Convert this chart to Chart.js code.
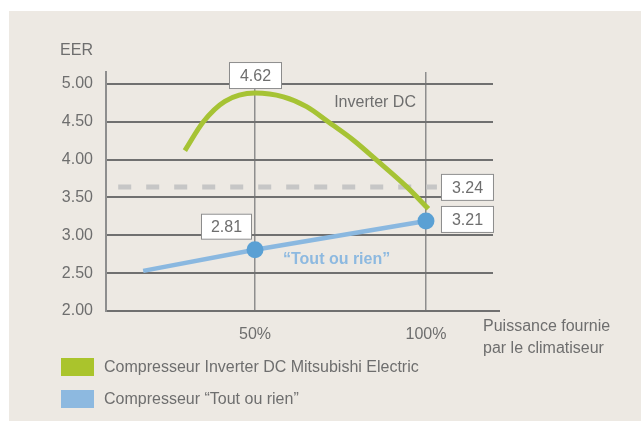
<!DOCTYPE html>
<html lang="fr">
<head>
  <meta charset="UTF-8" />
  <title>EER compresseurs</title>
  <script src="https://cdn.jsdelivr.net/npm/chart.js"></script>
  <style>
    * { margin: 0; padding: 0; box-sizing: border-box; }
    html, body { width: 641px; height: 421px; background: #fff; overflow: hidden;
      font-family: 'Liberation Sans', Arial, sans-serif; }
    .panel { position: absolute; left: 9px; top: 11px; width: 632px; height: 410px; background: #ede9e3; }
    .chart-box { position: absolute; left: 0; top: 0; width: 641px; height: 421px; }
    .legend { position: absolute; left: 61px; top: 358px; color: #6e6e6e; font-size: 16px; }
    .legend div { display: flex; align-items: center; height: 18px; margin-bottom: 14px; }
    .legend span.sw { display: inline-block; width: 33px; height: 18px; margin-right: 10px; }
  </style>
</head>
<body>
  <div class="panel"></div>
  <div class="chart-box"><canvas id="eerChart" width="641" height="421"></canvas></div>
  <div class="legend">
    <div><span class="sw" style="background:#aac42c"></span>Compresseur Inverter DC Mitsubishi Electric</div>
    <div><span class="sw" style="background:#8db9e0"></span>Compresseur “Tout ou rien”</div>
  </div>

  <script>
    // données
    const inverterX = [29.5, 34.9, 41.2, 50, 58.3, 65.1, 71.4, 78.7, 85.4, 94.4, 100.7];
    const inverterY = [4.12, 4.50, 4.77, 4.88, 4.83, 4.70, 4.50, 4.26, 4.00, 3.64, 3.35];
    const toutX = [17.3, 50, 100];
    const toutY = [2.53, 2.81, 3.19];
    const refX = [10, 103.2];
    const refY = [3.64, 3.64];
    const yTicks = [2, 2.5, 3, 3.5, 4, 4.5, 5];
    const xTicks = [50, 100];
    const xTickLabels = { 50: '50%', 100: '100%' };
    const boxLabels = ['4.62', '3.24', '3.21', '2.81'];

    const FONT = "'Liberation Sans', Arial, sans-serif";
    const GREY = '#6e6e6e';

    const pts = (xs, ys) => xs.map((x, i) => ({ x: x, y: ys[i] }));

    function box(ctx, x, y, w, h, txt) {
      ctx.fillStyle = '#ffffff';
      ctx.fillRect(x, y, w, h);
      ctx.strokeStyle = '#8c8c8c';
      ctx.lineWidth = 1;
      ctx.strokeRect(x + 0.5, y + 0.5, w - 1, h - 1);
      ctx.fillStyle = GREY;
      ctx.font = '16px ' + FONT;
      ctx.textAlign = 'center';
      ctx.textBaseline = 'middle';
      ctx.fillText(txt, x + w / 2, y + h / 2 + 1);
    }

    const annotations = {
      id: 'annotations',
      afterDatasetsDraw(chart) {
        const ctx = chart.ctx;
        const xs = chart.scales.x, ys = chart.scales.y;
        const a = chart.chartArea;
        ctx.save();
        // x axis extends slightly past the grid
        ctx.strokeStyle = '#707070';
        ctx.lineWidth = 2;
        ctx.beginPath();
        ctx.moveTo(a.right - 1, ys.getPixelForValue(2));
        ctx.lineTo(a.right + 7, ys.getPixelForValue(2));
        ctx.stroke();

        ctx.fillStyle = GREY;
        ctx.font = '16px ' + FONT;
        ctx.textBaseline = 'middle';
        ctx.textAlign = 'right';
        ctx.fillText('EER', a.left - 13, 51);
        ctx.fillText('Inverter DC', xs.getPixelForValue(100) - 10, (ys.getPixelForValue(5) + ys.getPixelForValue(4.5)) / 2);
        ctx.textAlign = 'left';
        ctx.fillText('Puissance fournie', a.right - 10, 327);
        ctx.fillText('par le climatiseur', a.right - 10, 349);

        ctx.fillStyle = '#8db9e0';
        ctx.font = 'bold 16px ' + FONT;
        ctx.fillText('“Tout ou rien”', xs.getPixelForValue(50) + 28, ys.getPixelForValue(toutY[1]) + 10);

        const p50 = xs.getPixelForValue(50), p100 = xs.getPixelForValue(100);
        box(ctx, p50 - 26, ys.getPixelForValue(Math.max(...inverterY)) - 31, 53, 27, boxLabels[0]);
        box(ctx, p100 + 15, ys.getPixelForValue(refY[0]) - 13, 53, 27, boxLabels[1]);
        box(ctx, p100 + 15, ys.getPixelForValue(toutY[2]) - 15, 53, 27, boxLabels[2]);
        box(ctx, p50 - 54, ys.getPixelForValue(toutY[1]) - 36, 51, 26, boxLabels[3]);
        ctx.restore();
      }
    };

    new Chart(document.getElementById('eerChart'), {
      type: 'line',
      data: {
        datasets: [
          { label: 'Référence', data: pts(refX, refY), borderColor: '#c6c6c6', borderWidth: 5,
            borderDash: [13, 15], pointRadius: 0, order: 3 },
          { label: 'Compresseur Inverter DC Mitsubishi Electric', data: pts(inverterX, inverterY),
            borderColor: '#a6c334', borderWidth: 5, pointRadius: 0, cubicInterpolationMode: 'monotone', order: 2 },
          { label: 'Compresseur “Tout ou rien”', data: pts(toutX, toutY), borderColor: '#8ab8e0', borderWidth: 4.5,
            pointRadius: [0, 8.5, 8.5], pointBackgroundColor: '#5aa0d4', pointBorderWidth: 0, order: 1 }
        ]
      },
      options: {
        responsive: false,
        animation: false,
        layout: { padding: { top: 72, right: 148, bottom: 0, left: 0 } },
        plugins: { legend: { display: false }, tooltip: { enabled: false } },
        scales: {
          x: {
            type: 'linear', min: 6.43, max: 119.6,
            afterBuildTicks: s => { s.ticks = xTicks.map(v => ({ value: v })); },
            afterFit: s => { s.height = 110; },
            grid: { color: '#8e8e8e', lineWidth: 1.5, drawTicks: false },
            border: { color: '#707070', width: 2 },
            ticks: { color: GREY, font: { family: FONT, size: 16 }, padding: 14, maxRotation: 0,
              callback: v => xTickLabels[v] }
          },
          y: {
            min: 2, max: 5.158,
            afterBuildTicks: s => { s.ticks = yTicks.map(v => ({ value: v })); },
            afterFit: s => { s.width = 106; },
            grid: { color: '#707070', lineWidth: 2, drawTicks: false },
            border: { color: '#8e8e8e', width: 2 },
            ticks: { color: GREY, font: { family: FONT, size: 16 }, padding: 13,
              callback: v => Number(v).toFixed(2) }
          }
        }
      },
      plugins: [annotations]
    });
  </script>
</body>
</html>
